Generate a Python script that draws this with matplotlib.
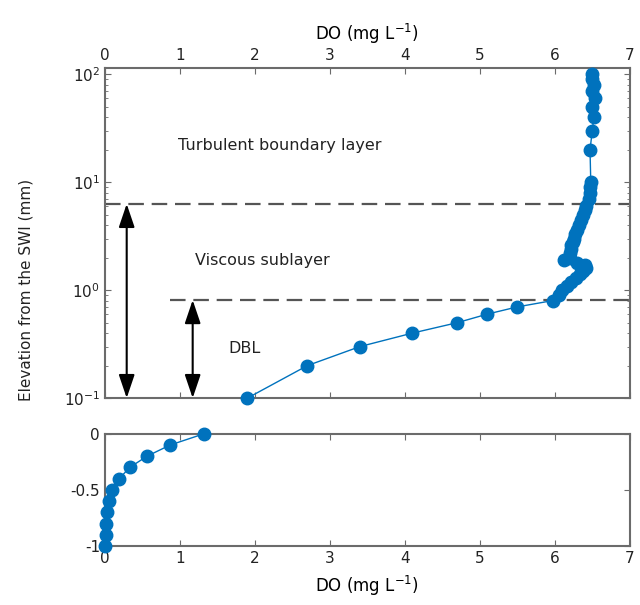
import numpy as np
import matplotlib.pyplot as plt
from matplotlib.ticker import FixedLocator, FuncFormatter, LogLocator, NullFormatter

# DO profile above the sediment-water interface (log elevation, mm)
elev_top = [0.1, 0.2, 0.3, 0.4, 0.5, 0.6, 0.7, 0.8, 0.9, 1.0,
            1.1, 1.2, 1.3, 1.4, 1.5, 1.6, 1.7, 1.8, 1.9, 2.0,
            2.2, 2.4, 2.6, 2.8, 3.0, 3.3, 3.6, 4.0, 4.5,
            5.0, 5.5, 6.0, 7.0, 8.0, 9.0, 10.0,
            20, 30, 40, 50, 60, 70, 80, 90, 100]
do_top = [1.9, 2.7, 3.4, 4.1, 4.7, 5.1, 5.5, 5.97, 6.05, 6.1,
          6.16, 6.22, 6.28, 6.33, 6.38, 6.42, 6.4, 6.3, 6.12, 6.2,
          6.2, 6.21, 6.22, 6.24, 6.25, 6.27, 6.3, 6.32, 6.35,
          6.38, 6.4, 6.42, 6.45, 6.47, 6.47, 6.48,
          6.47, 6.5, 6.52, 6.5, 6.53, 6.5, 6.52, 6.5, 6.5]

# DO profile below the interface (linear elevation, mm)
elev_bot = [0.0, -0.1, -0.2, -0.3, -0.4, -0.5, -0.6, -0.7, -0.8, -0.9, -1.0]
do_bot = [1.32, 0.87, 0.56, 0.33, 0.19, 0.09, 0.05, 0.03, 0.02, 0.01, 0.0]

vsl_top = 6.3   # top of viscous sublayer
dbl_top = 0.81  # top of diffusive boundary layer

blue = '#0072BD'
spine_c = '#6b6b6b'
plt.rcParams['font.family'] = 'DejaVu Sans'

fig = plt.figure(figsize=(6.4, 6.05), dpi=100)
ax1 = fig.add_axes([0.164, 0.342, 0.820, 0.546])
ax2 = fig.add_axes([0.164, 0.0975, 0.820, 0.1855])

for ax, xs, ys in ((ax1, do_top, elev_top), (ax2, do_bot, elev_bot)):
    ax.plot(xs, ys, '-o', color=blue, lw=1.0, ms=9, clip_on=False, zorder=3)
    ax.set_xlim(0, 7)
    ax.set_xticks(range(8))
    for s in ax.spines.values():
        s.set_color(spine_c)
        s.set_linewidth(1.5)
    ax.tick_params(which='both', direction='in', top=True, right=True,
                   color=spine_c, labelsize=11, labelcolor='#222222')
    ax.tick_params(which='major', length=4)
    ax.tick_params(which='minor', length=2.5)

# upper panel
ax1.set_yscale('log')
ax1.set_ylim(0.1, 115)
ax1.yaxis.set_major_locator(FixedLocator([0.1, 1, 10, 100]))
ax1.yaxis.set_minor_locator(LogLocator(base=10, subs=np.arange(2, 10)))
ax1.yaxis.set_minor_formatter(NullFormatter())
ax1.xaxis.set_label_position('top')
ax1.tick_params(axis='x', labeltop=True, labelbottom=False)
ax1.set_xlabel('DO (mg L$^{-1}$)', fontsize=12, labelpad=6)

ax1.plot([0, 7], [vsl_top, vsl_top], color='#555555', lw=1.6, dashes=(7, 3.5))
ax1.plot([0.87, 7], [dbl_top, dbl_top], color='#555555', lw=1.6, dashes=(7, 3.5))

arrow = dict(arrowstyle='<|-|>,head_length=0.65,head_width=0.22', color='black',
             lw=1.5, mutation_scale=22, shrinkA=0, shrinkB=0)
ax1.annotate('', xy=(0.29, 0.1), xytext=(0.29, vsl_top), arrowprops=arrow)
ax1.annotate('', xy=(1.17, 0.1), xytext=(1.17, dbl_top), arrowprops=arrow)

ax1.text(0.97, 22, 'Turbulent boundary layer', fontsize=11.5, va='center', color='#222222')
ax1.text(1.2, 1.9, 'Viscous sublayer', fontsize=11.5, va='center', color='#222222')
ax1.text(1.64, 0.29, 'DBL', fontsize=11.5, va='center', color='#222222')

# lower panel
ax2.set_ylim(-1, 0)
ax2.set_yticks([-1, -0.5, 0])
ax2.yaxis.set_major_formatter(FuncFormatter(lambda v, p: '%g' % v))
ax2.set_xlabel('DO (mg L$^{-1}$)', fontsize=12, labelpad=6)

fig.text(0.04, 0.52, 'Elevation from the SWI (mm)', rotation=90,
         ha='center', va='center', fontsize=11, color='#222222')

fig.savefig('out.png', dpi=100)
